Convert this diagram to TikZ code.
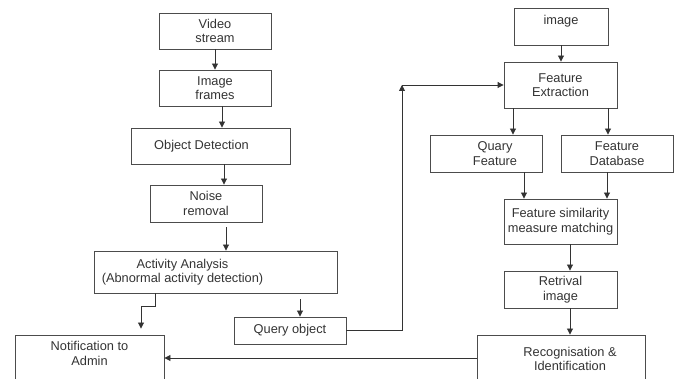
\documentclass[tikz,border=0pt]{standalone}
\usepackage{fontspec}
\setmainfont{Liberation Sans}
\usetikzlibrary{positioning,arrows.meta,calc}

\begin{document}
\begin{tikzpicture}[x=1pt,y=-1pt,>={Triangle[length=6pt,width=6pt]},
	every node/.style={font=\fontsize{12.8}{14.5}\selectfont, text=black!80},
	blk/.style={draw=black!70, line width=0.9pt, align=center, inner sep=0pt},
	txt/.style={align=center, inner sep=0pt},
	arr/.style={->, draw=black!80, line width=0.9pt}]
	%% frame of the picture
	\clip (0,0) rectangle (678,379);
	
	%% left column: video side
	\node[blk, minimum width=112, minimum height=36] (vid) at (215,31) {Video\\stream};
	\node[blk, minimum width=112, minimum height=36] (frm) at (215,88) {Image\\frames};
	\node[blk, minimum width=159, minimum height=36,
		label={[txt,xshift=-9pt]center:Object Detection}] (obj) at (210.5,146) {};
	\node[blk, minimum width=112, minimum height=37] (noise) at (206,203.5) {Noise\\removal};
	\node[blk, minimum width=243, minimum height=42,
		label={[txt,xshift=-33pt]center:{Activity Analysis\\(Abnormal activity detection)}}] (act) at (215.5,272) {};
	\node[blk, minimum width=112, minimum height=27] (qry) at (290,330.5) {Query object};
	\node[blk, minimum width=149, minimum height=70,
		label={[txt,yshift=16.5pt]center:{Notification to\\Admin}}] (noti) at (89.5,370) {};
	
	%% right column: image side
	\node[blk, minimum width=94, minimum height=37,
		label={[txt,yshift=5.5pt]center:image}] (img) at (561,26.5) {};
	\node[blk, minimum width=113, minimum height=46] (fext) at (560.5,85) {Feature\\Extraction};
	\node[blk, minimum width=112, minimum height=37,
		label={[txt,xshift=9pt]center:{Quary\\Feature}}] (qf) at (486,153.5) {};
	\node[blk, minimum width=112, minimum height=37] (fdb) at (617,153.5) {Feature\\Database};
	\node[blk, minimum width=113, minimum height=45] (sim) at (560.5,221.5) {Feature similarity\\measure matching};
	\node[blk, minimum width=113, minimum height=37] (ret) at (560.5,289.5) {Retrival\\image};
	\node[blk, minimum width=168, minimum height=70,
		label={[txt,xshift=9pt,yshift=11pt]center:{Recognisation \&\\Identification}}] (rec) at (561,370) {};
	
	%% helper coordinates for the connectors
	\coordinate (xfo) at (222,0);
	\coordinate (xon) at (224,0);
	\coordinate (xna) at (226,0);
	\coordinate (xan) at (155,0);
	\coordinate (xnt) at (141,0);
	\coordinate (xaq) at (300,0);
	\coordinate (turn) at (402,85);
	\coordinate (yrn) at (0,358);
	\coordinate (xif) at (561,0);
	\coordinate (xfq) at (513,0);
	\coordinate (xfd) at (608,0);
	\coordinate (xqs) at (524,0);
	\coordinate (xds) at (607,0);
	\coordinate (xsr) at (570,0);
	
	%% connectors, left
	\draw[arr] (vid) -- (frm);
	\draw[arr] (frm.south -| xfo) -- (obj.north -| xfo);
	\draw[arr] (obj.south -| xon) -- (noise.north -| xon);
	\draw[arr, shorten <=5pt] (noise.south -| xna) -- (act.north -| xna);
	\draw[arr] (act.south -| xan) -- ++(0,13) -| ([yshift=6pt]noti.north -| xnt);
	\draw[arr, shorten <=6pt] (act.south -| xaq) -- (qry.north -| xaq);
	\draw[arr] (qry.east) -| (turn);
	\draw[arr] (turn) -- (fext.west);
	\draw[arr] (rec.west |- yrn) -- (noti.east |- yrn);
	
	%% connectors, right
	\draw[arr] (img.south -| xif) -- (fext.north -| xif);
	\draw[arr] (fext.south -| xfq) -- (qf.north -| xfq);
	\draw[arr] (fext.south -| xfd) -- (fdb.north -| xfd);
	\draw[arr] (qf.south -| xqs) -- (sim.north -| xqs);
	\draw[arr] (fdb.south -| xds) -- (sim.north -| xds);
	\draw[arr] (sim.south -| xsr) -- (ret.north -| xsr);
	\draw[arr] (ret.south -| xsr) -- (rec.north -| xsr);
\end{tikzpicture}
\end{document}
